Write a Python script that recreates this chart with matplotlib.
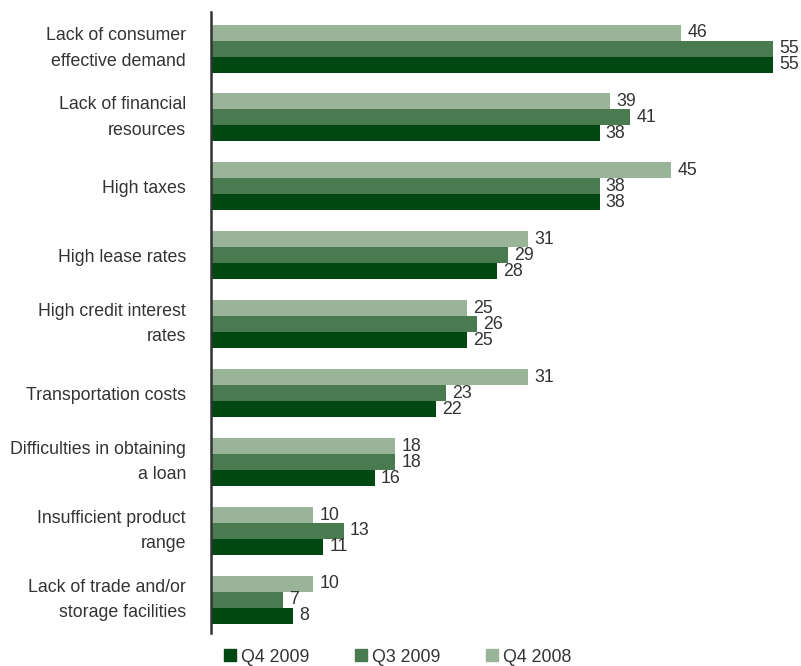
import numpy as np
import matplotlib.pyplot as plt
from matplotlib.patches import Patch

plt.rcParams['font.family'] = ['Liberation Sans', 'DejaVu Sans']

categories = [
    "Lack of consumer\neffective demand",
    "Lack of financial\nresources",
    "High taxes",
    "High lease rates",
    "High credit interest\nrates",
    "Transportation costs",
    "Difficulties in obtaining\na loan",
    "Insufficient product\nrange",
    "Lack of trade and/or\nstorage facilities",
]
q4_2008 = [46, 39, 45, 31, 25, 31, 18, 10, 10]
q3_2009 = [55, 41, 38, 29, 26, 23, 18, 13, 7]
q4_2009 = [55, 38, 38, 28, 25, 22, 16, 11, 8]

c_light = '#99b499'
c_mid = '#497a50'
c_dark = '#004712'
txt = '#333333'
fs = 12.8

fig = plt.figure(figsize=(8.01, 6.66), dpi=100)
ax = fig.add_axes([211 / 801, 1 - 633 / 666, 590 / 801, 621 / 666])

y = np.arange(len(categories))
h = 0.232
series = [(q4_2008, c_light, -h), (q3_2009, c_mid, 0), (q4_2009, c_dark, h)]
for vals, col, off in series:
    ax.barh(y + off, vals, height=h, color=col, linewidth=0)
    for yi, v in zip(y, vals):
        ax.text(v + 0.6, yi + off, str(v), va='center', ha='left', fontsize=fs, color=txt)

ax.set_xlim(0, 57.7)
ax.set_ylim(8.48, -0.53)
ax.set_yticks(y)
ax.set_yticklabels(categories, fontsize=fs, color=txt, linespacing=1.65, ha='right')
for lab in ax.get_yticklabels():
    if '\n' in lab.get_text():
        lab.set_va('center')
ax.tick_params(axis='y', length=0, pad=18)
ax.set_xticks([])
for s in ['top', 'right', 'bottom']:
    ax.spines[s].set_visible(False)
ax.spines['left'].set_color('#333333')
ax.spines['left'].set_linewidth(1.8)

handles = [Patch(color=c_dark), Patch(color=c_mid), Patch(color=c_light)]
fig.legend(handles, ['Q4 2009', 'Q3 2009', 'Q4 2008'], loc='center left',
           bbox_to_anchor=(224 / 801, 1 - 657 / 666), ncol=3, frameon=False,
           fontsize=fs, handlelength=0.68, handleheight=0.68, handletextpad=0.25,
           columnspacing=2.6, borderpad=0, borderaxespad=0, labelcolor=txt)

fig.savefig('out.png', dpi=100)
